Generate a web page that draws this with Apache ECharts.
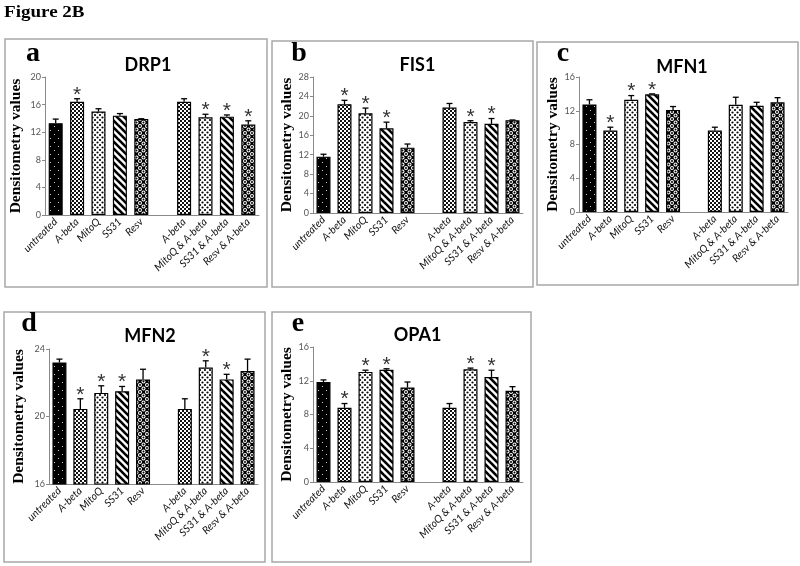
<!DOCTYPE html>
<html>
<head>
<meta charset="utf-8">
<script src="https://cdn.jsdelivr.net/npm/echarts@6/dist/echarts.min.js"></script>
<style>
  html, body { margin: 0; padding: 0; background: #fff; }
  #chart { width: 800px; height: 566px; }
</style>
</head>
<body>
<div id="chart"></div>
<script>
// ---------------- DATA ----------------
const categories = ['untreated', 'A-beta', 'MitoQ', 'SS31', 'Resv', '', 'A-beta', 'MitoQ & A-beta', 'SS31 & A-beta', 'Resv & A-beta'];

const panelNames = ['DRP1', 'FIS1', 'MFN1', 'MFN2', 'OPA1'];
const panelLetters = ['a', 'b', 'c', 'd', 'e'];
const yAxisTitle = 'Densitometry values';
const figureTitle = 'Figure 2B';

const drp1Values = [13.3, 16.4, 15.0, 14.4, 13.9, null, 16.4, 14.15, 14.25, 13.1];
const drp1Errors = [0.6, 0.45, 0.4, 0.3, 0.05, null, 0.45, 0.45, 0.25, 0.55];
const drp1Stars  = [0, 1, 0, 0, 0, 0, 0, 1, 1, 1];
const drp1Axis   = [0, 20, 4];

const fis1Values = [11.6, 22.4, 20.55, 17.45, 13.45, null, 21.7, 18.75, 18.35, 19.1];
const fis1Errors = [0.5, 0.8, 1.05, 1.25, 0.75, null, 0.85, 0.25, 1.1, 0.05];
const fis1Stars  = [0, 1, 1, 1, 0, 0, 0, 1, 1, 0];
const fis1Axis   = [0, 28, 4];

const mfn1Values = [12.75, 9.65, 13.3, 13.95, 12.1, null, 9.65, 12.7, 12.6, 13.0];
const mfn1Errors = [0.55, 0.4, 0.5, 0.05, 0.4, null, 0.4, 0.9, 0.4, 0.55];
const mfn1Stars  = [0, 1, 1, 1, 0, 0, 0, 0, 0, 0];
const mfn1Axis   = [0, 16, 4];

const mfn2Values = [23.2, 20.45, 21.4, 21.5, 22.2, null, 20.45, 22.9, 22.2, 22.7];
const mfn2Errors = [0.2, 0.6, 0.42, 0.28, 0.6, null, 0.6, 0.4, 0.3, 0.7];
const mfn2Stars  = [0, 1, 1, 1, 0, 0, 0, 1, 1, 0];
const mfn2Axis   = [16, 24, 4];

const opa1Values = [11.85, 8.8, 13.05, 13.3, 11.2, null, 8.8, 13.35, 12.45, 10.8];
const opa1Errors = [0.25, 0.5, 0.2, 0.12, 0.65, null, 0.5, 0.15, 0.8, 0.5];
const opa1Stars  = [0, 1, 1, 1, 0, 0, 0, 1, 1, 0];
const opa1Axis   = [0, 16, 4];

// ---------------- STYLE / LAYOUT ----------------
const fillOrder = ['solid', 'check', 'dots', 'stripe', 'circles', null, 'check', 'dots', 'stripe', 'circles'];

function makePattern(kind) {
  const c = document.createElement('canvas');
  let ctx;
  function circ(x, y, r, col) { ctx.fillStyle = col; ctx.beginPath(); ctx.arc(x, y, r, 0, Math.PI * 2); ctx.fill(); }
  if (kind === 'solid') {
    c.width = 8; c.height = 8; ctx = c.getContext('2d');
    ctx.fillStyle = '#000'; ctx.fillRect(0, 0, 8, 8);
    ctx.fillStyle = '#c8c8c8'; ctx.fillRect(2, 2, 1, 1); ctx.fillRect(6, 6, 1, 1);
  } else if (kind === 'check') {
    c.width = 4; c.height = 4; ctx = c.getContext('2d');
    ctx.fillStyle = '#fff'; ctx.fillRect(0, 0, 4, 4);
    ctx.fillStyle = '#111'; ctx.fillRect(0, 0, 2, 2); ctx.fillRect(2, 2, 2, 2);
  } else if (kind === 'dots') {
    c.width = 5; c.height = 5; ctx = c.getContext('2d');
    ctx.fillStyle = '#fff'; ctx.fillRect(0, 0, 5, 5);
    [[2.5, 2.5], [0, 0], [5, 0], [0, 5], [5, 5]].forEach(p => circ(p[0], p[1], 1.1, '#000'));
  } else if (kind === 'stripe') {
    c.width = 7; c.height = 7; ctx = c.getContext('2d');
    ctx.fillStyle = '#fff'; ctx.fillRect(0, 0, 7, 7);
    ctx.strokeStyle = '#000'; ctx.lineWidth = 2.6;
    [[-1, -1, 8, 8], [-2, 5, 2, 9], [5, -2, 9, 2]].forEach(s => {
      ctx.beginPath(); ctx.moveTo(s[0], s[1]); ctx.lineTo(s[2], s[3]); ctx.stroke();
    });
  } else if (kind === 'circles') {
    c.width = 7; c.height = 7; ctx = c.getContext('2d');
    ctx.fillStyle = '#000'; ctx.fillRect(0, 0, 7, 7);
    [[3.5, 3.5], [0, 0], [7, 0], [0, 7], [7, 7]].forEach(p => { circ(p[0], p[1], 2.0, '#fff'); circ(p[0], p[1], 1.0, '#000'); });
  }
  return { image: c, repeat: 'repeat' };
}
const patterns = {};
['solid', 'check', 'dots', 'stripe', 'circles'].forEach(k => patterns[k] = makePattern(k));

const panels = [
  { values: drp1Values, errors: drp1Errors, stars: drp1Stars, axis: drp1Axis },
  { values: fis1Values, errors: fis1Errors, stars: fis1Stars, axis: fis1Axis },
  { values: mfn1Values, errors: mfn1Errors, stars: mfn1Stars, axis: mfn1Axis },
  { values: mfn2Values, errors: mfn2Errors, stars: mfn2Stars, axis: mfn2Axis },
  { values: opa1Values, errors: opa1Errors, stars: opa1Stars, axis: opa1Axis }
];

const grids = [
  { left: 45, top: 77, width: 214, height: 138 },
  { left: 313, top: 77, width: 210, height: 136 },
  { left: 579, top: 77, width: 209, height: 135 },
  { left: 49, top: 349, width: 209, height: 135 },
  { left: 313, top: 347, width: 210, height: 135 }
];
const nameGaps = [21, 16, 17, 22, 16];
const boxes = [
  [5, 39, 262, 248], [272, 41, 261, 246], [537, 42, 261, 243],
  [4, 312, 261, 250], [272, 312, 259, 250]
];
const letterPos = [[33, 63], [299, 63], [563, 63], [29, 333], [298, 333]];
const titlePos = [[148, 65.5], [417.5, 65], [682, 67], [150, 336], [417.5, 335]];

const gridOpts = [], xAxes = [], yAxes = [], series = [], graphics = [];

grids.forEach((g, i) => {
  gridOpts.push(Object.assign({ containLabel: false, outerBoundsMode: 'none' }, g));
  xAxes.push({
    type: 'category', gridIndex: i, data: categories,
    axisLine: { show: true, lineStyle: { color: '#8a8a8a', width: 1 } },
    axisTick: { show: false },
    axisLabel: { interval: 0, rotate: 45, fontSize: 10.5, fontStyle: 'italic', fontFamily: 'Lato', color: '#111', margin: 5 },
    splitLine: { show: false }
  });
  const ax = panels[i].axis;
  yAxes.push({
    type: 'value', gridIndex: i, min: ax[0], max: ax[1], interval: ax[2],
    name: yAxisTitle, nameLocation: 'middle', nameRotate: 90, nameGap: nameGaps[i],
    nameTextStyle: { fontFamily: 'Liberation Serif', fontWeight: 'bold', fontSize: 15.5, color: '#000' },
    axisLine: { show: true, lineStyle: { color: '#8a8a8a', width: 1 } },
    axisTick: { show: true, inside: false, length: 3, lineStyle: { color: '#8a8a8a' } },
    axisLabel: { fontSize: 9, fontFamily: 'Lato', color: '#555', margin: 4 },
    splitLine: { show: false }
  });

  const p = panels[i];
  series.push({
    type: 'bar', xAxisIndex: i, yAxisIndex: i, barWidth: 14,
    data: p.values.map((v, k) => v == null ? '-' : {
      value: v,
      itemStyle: { color: patterns[fillOrder[k]], borderColor: '#000', borderWidth: 1.2 }
    }),
    silent: true, animation: false
  });
  const errData = [];
  p.values.forEach((v, k) => { if (v != null) errData.push([k, v, p.errors[k], p.stars[k]]); });
  series.push({
    type: 'custom', xAxisIndex: i, yAxisIndex: i, z: 5, clip: false,
    encode: { x: 0, y: 1 }, data: errData, animation: false, silent: true,
    renderItem: function (params, api) {
      const x = api.value(0), v = api.value(1), e = api.value(2), s = api.value(3);
      const b = api.coord([x, v]);
      const t = api.coord([x, v + e]);
      const ch = [
        { type: 'line', shape: { x1: b[0], y1: b[1], x2: t[0], y2: t[1] }, style: { stroke: '#000', lineWidth: 1.3 } },
        { type: 'line', shape: { x1: t[0] - 3, y1: t[1], x2: t[0] + 3, y2: t[1] }, style: { stroke: '#000', lineWidth: 1.3 } }
      ];
      if (s) {
        ch.push({ type: 'text', style: { text: '*', x: t[0], y: t[1] - 4, align: 'center', verticalAlign: 'middle', textAlign: 'center', textVerticalAlign: 'middle', fontSize: 21, fontFamily: 'Liberation Sans', fill: '#333' } });
      }
      return { type: 'group', children: ch };
    }
  });

  const bx = boxes[i];
  graphics.push({ type: 'rect', shape: { x: bx[0], y: bx[1], width: bx[2], height: bx[3] }, style: { fill: 'none', stroke: '#a8a8a8', lineWidth: 1.5 }, z: 0, silent: true });
  graphics.push({ type: 'text', x: letterPos[i][0], y: letterPos[i][1] - 9, style: { text: panelLetters[i], font: 'bold 28px "Liberation Serif"', fill: '#000', textAlign: 'center', textVerticalAlign: 'middle' }, silent: true });
  graphics.push({ type: 'text', x: titlePos[i][0], y: titlePos[i][1], style: { text: panelNames[i], font: 'bold 18px Lato', fill: '#000', textAlign: 'center', textVerticalAlign: 'middle' }, silent: true });
});

graphics.push({ type: 'text', x: 4, y: 4, scaleX: 1.12, style: { text: figureTitle, font: 'bold 17px "Liberation Serif"', fill: '#000', textAlign: 'left', textVerticalAlign: 'top' }, silent: true });

const chart = echarts.init(document.getElementById('chart'), null, { renderer: 'canvas', width: 800, height: 566 });
chart.setOption({
  backgroundColor: '#fff',
  animation: false,
  grid: gridOpts,
  xAxis: xAxes,
  yAxis: yAxes,
  series: series,
  graphic: graphics
});
</script>
</body>
</html>
